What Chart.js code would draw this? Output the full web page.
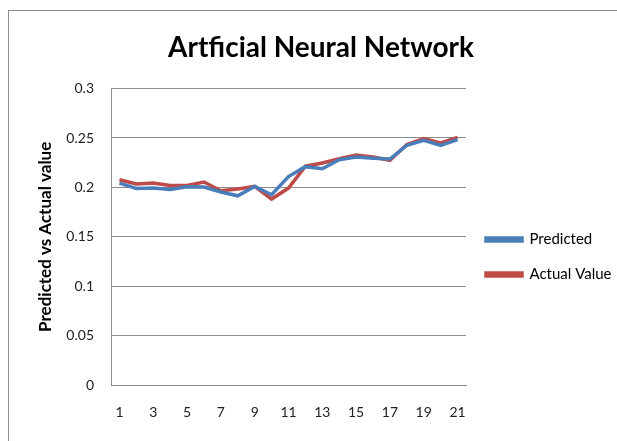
<!DOCTYPE html>
<html>
<head>
<meta charset="utf-8">
<script src="https://cdn.jsdelivr.net/npm/chart.js@4"></script>
<style>
    html, body { margin: 0; padding: 0; background: #fff; }
    #wrap { position: relative; width: 617px; height: 441px; }
</style>
</head>
<body>
<div id="wrap"><canvas id="annChart" width="617" height="441"></canvas></div>
<script>
// chart data
const categories = ['1', '2', '3', '4', '5', '6', '7', '8', '9', '10', '11',
    '12', '13', '14', '15', '16', '17', '18', '19', '20', '21'];
const predicted = [0.2044, 0.199, 0.1993, 0.198, 0.2007, 0.2003, 0.1953, 0.1915, 0.201, 0.1926, 0.211,
    0.221, 0.2189, 0.228, 0.2308, 0.2294, 0.2287, 0.2425, 0.2476, 0.2425, 0.2483];
const actual = [0.2078, 0.2034, 0.2044, 0.202, 0.202, 0.2054, 0.1966, 0.1983, 0.201, 0.1882, 0.1993,
    0.2215, 0.2247, 0.229, 0.2328, 0.2308, 0.2274, 0.2435, 0.2493, 0.245, 0.2507];
const yTicks = [0, 0.05, 0.1, 0.15, 0.2, 0.25, 0.3];

const fontFamily = 'Lato, "Open Sans", sans-serif';

// outer frame like the office chart border
const framePlugin = {
    id: 'frame',
    beforeDraw(chart) {
        const ctx = chart.ctx;
        ctx.save();
        ctx.fillStyle = '#fff';
        ctx.fillRect(0, 0, chart.width, chart.height);
        ctx.strokeStyle = '#8c8c8c';
        ctx.lineWidth = 1;
        ctx.strokeRect(8.5, 10.5, 700, 500);
        ctx.restore();
    }
};

const ctx = document.getElementById('annChart').getContext('2d');
new Chart(ctx, {
    type: 'line',
    data: {
        labels: categories,
        datasets: [{
            label: 'Predicted',
            data: predicted,
            borderColor: '#4a7ebb',
            backgroundColor: '#4a7ebb',
            borderWidth: 3.5,
            pointRadius: 0,
            tension: 0,
            fill: false
        }, {
            label: 'Actual Value',
            data: actual,
            borderColor: '#be4b48',
            backgroundColor: '#be4b48',
            borderWidth: 3.5,
            pointRadius: 0,
            tension: 0,
            fill: false
        }]
    },
    options: {
        responsive: false,
        animation: false,
        layout: {
            padding: {left: 31, right: 6, top: 31, bottom: 16}
        },
        plugins: {
            title: {
                display: true,
                text: 'Artficial Neural Network',
                color: '#000',
                font: {family: fontFamily, size: 28, weight: 'bold'},
                padding: {top: 0, bottom: 24}
            },
            legend: {
                position: 'right',
                // empty title only pushes the entries down like the original
                title: {
                    display: true,
                    text: ' ',
                    font: {family: fontFamily, size: 10},
                    padding: {top: 0, bottom: 46}
                },
                labels: {
                    color: '#000',
                    font: {family: fontFamily, size: 15},
                    boxWidth: 36,
                    boxHeight: 3,
                    padding: 20
                }
            },
            tooltip: {enabled: false}
        },
        scales: {
            x: {
                offset: true,
                afterFit: function (scale) {
                    scale.height = 40;
                },
                grid: {display: false, drawTicks: false},
                border: {color: '#8c8c8c'},
                ticks: {
                    color: '#222',
                    font: {family: fontFamily, size: 14},
                    autoSkip: false,
                    maxRotation: 0,
                    padding: 19,
                    callback: function (val, i) {
                        return i % 2 === 0 ? categories[i] : '';
                    }
                }
            },
            y: {
                min: 0,
                max: 0.3,
                afterBuildTicks: function (scale) {
                    scale.ticks = yTicks.map(v => ({value: v}));
                },
                afterFit: function (scale) {
                    scale.width = 80;
                },
                grid: {color: '#8c8c8c', drawTicks: false},
                border: {color: '#8c8c8c'},
                ticks: {
                    color: '#222',
                    font: {family: fontFamily, size: 14},
                    padding: 17,
                    callback: v => String(+v.toFixed(2))
                },
                title: {
                    display: true,
                    text: 'Predicted vs Actual value',
                    color: '#000',
                    font: {family: fontFamily, size: 17, weight: 'bold'},
                    padding: {bottom: 0}
                }
            }
        }
    },
    plugins: [framePlugin]
});
</script>
</body>
</html>
